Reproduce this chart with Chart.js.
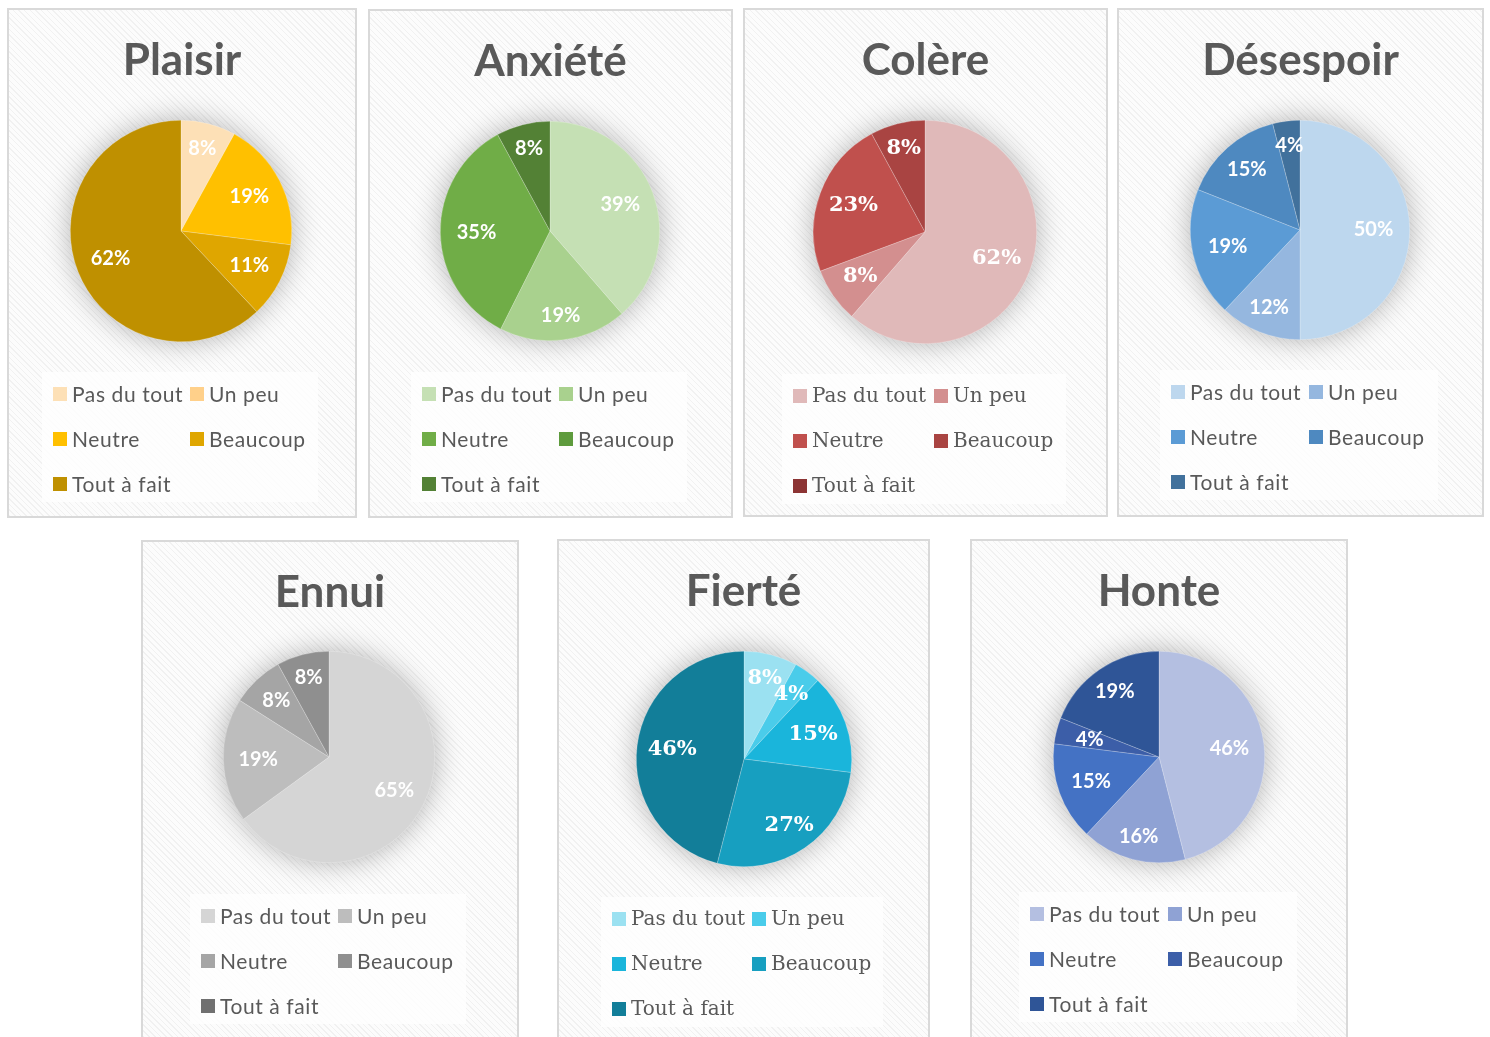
<!DOCTYPE html>
<html lang="fr">
<head>
<meta charset="utf-8">
<title>Émotions</title>
<script src="https://cdn.jsdelivr.net/npm/chart.js@4.4.1/dist/chart.umd.min.js"></script>
<style>
  body { margin: 0; width: 1490px; height: 1037px; overflow: hidden; position: relative; background: #fff; }
  .panel {
    position: absolute; box-sizing: border-box;
    border: 2px solid #d9d9d9;
    background: #fff repeating-linear-gradient(45deg, #f1f1f1 0 1px, #fcfcfc 1px 4px);
  }
  canvas { position: absolute; }
</style>
</head>
<body>
<script>
// Réponses (%) par émotion
const categories = ['Pas du tout', 'Un peu', 'Neutre', 'Beaucoup', 'Tout à fait'];
const titles = ['Plaisir', 'Anxiété', 'Colère', 'Désespoir', 'Ennui', 'Fierté', 'Honte'];

const plaisir   = [8, 0, 19, 11, 62];
const anxiete   = [39, 19, 35, 0, 8];
const colere    = [62, 8, 23, 8, 0];
const desespoir = [50, 12, 19, 15, 4];
const ennui     = [65, 19, 8, 8, 0];
const fierte    = [8, 4, 15, 27, 46];
const honte     = [46, 16, 15, 4, 19];
const series = [plaisir, anxiete, colere, desespoir, ennui, fierte, honte];

// Couleurs par graphique
const palettes = [
  ['#FDE0B6', '#FFD08A', '#FFC000', '#DFA600', '#BF9000'],
  ['#C5E0B4', '#A9D18E', '#70AD47', '#5E9B3D', '#538135'],
  ['#E0B9B9', '#D38F8F', '#C0504D', '#A94442', '#8C3434'],
  ['#BDD7EE', '#95B7DF', '#5B9BD5', '#4E89C0', '#41719C'],
  ['#D5D5D5', '#BDBDBD', '#A5A5A5', '#8F8F8F', '#707070'],
  ['#9BE1F1', '#4ACCEA', '#1AB5DB', '#179FC0', '#127E99'],
  ['#B4BFE1', '#8FA2D4', '#4472C4', '#3C5EA8', '#2F5597']
];

// Cadres : position, centre et rayon du camembert, légende
const panels = [
  { x: 7,    y: 8,   w: 350, h: 510, cx: 174, cy: 223, r: 111, legX: 46, legY: 386, gap: 137, serif: false },
  { x: 368,  y: 9,   w: 365, h: 509, cx: 182, cy: 222, r: 110, legX: 54, legY: 385, gap: 137, serif: false },
  { x: 743,  y: 8,   w: 365, h: 509, cx: 182, cy: 224, r: 112, legX: 50, legY: 388, gap: 141, serif: true },
  { x: 1117, y: 8,   w: 367, h: 509, cx: 183, cy: 222, r: 110, legX: 54, legY: 384, gap: 138, serif: false },
  { x: 141,  y: 540, w: 378, h: 510, cx: 188, cy: 217, r: 106, legX: 60, legY: 376, gap: 137, serif: false },
  { x: 557,  y: 539, w: 373, h: 510, cx: 187, cy: 220, r: 108, legX: 55, legY: 380, gap: 140, serif: true },
  { x: 970,  y: 539, w: 378, h: 510, cx: 189, cy: 218, r: 106, legX: 60, legY: 375, gap: 138, serif: false }
];

// Titre, ombre, étiquettes et légende dessinés autour du camembert
const panelDecor = {
  id: 'panelDecor',
  beforeDraw(chart, args, o) {
    const ctx = chart.ctx;
    ctx.save();
    ctx.fillStyle = 'rgba(255,255,255,0.75)';
    ctx.fillRect(o.legX - 11, o.legY - 22, o.gap * 2 + 2, 130);
    ctx.fillStyle = '#595959';
    ctx.font = 'bold 44px Lato';
    ctx.textAlign = 'center';
    ctx.textBaseline = 'alphabetic';
    ctx.fillText(o.title, chart.width / 2, 67);
    ctx.restore();
  },
  beforeDatasetsDraw(chart) {
    const arc = chart.getDatasetMeta(0).data[0];
    const ctx = chart.ctx;
    ctx.save();
    ctx.shadowColor = 'rgba(0,0,0,0.32)';
    ctx.shadowBlur = 30;
    ctx.fillStyle = '#f4f4f4';
    ctx.beginPath();
    ctx.arc(arc.x, arc.y, arc.outerRadius - 1, 0, Math.PI * 2);
    ctx.fill();
    ctx.restore();
  },
  afterDatasetsDraw(chart, args, o) {
    const ctx = chart.ctx;
    const values = chart.data.datasets[0].data;
    ctx.save();
    ctx.fillStyle = '#fff';
    ctx.textAlign = 'center';
    ctx.textBaseline = 'middle';
    ctx.font = o.serif ? 'bold 21px "DejaVu Serif"' : 'bold 20px Lato';
    chart.getDatasetMeta(0).data.forEach((arc, i) => {
      if (!values[i]) return;
      const mid = (arc.startAngle + arc.endAngle) / 2;
      // étiquettes un peu plus loin du centre vers le haut et le bas
      const s = Math.sin(mid);
      const d = arc.outerRadius * (0.67 + 0.11 * s * s);
      ctx.fillText(values[i] + '%', arc.x + Math.cos(mid) * d, arc.y + s * d);
    });
    ctx.restore();
  },
  afterDraw(chart, args, o) {
    const ctx = chart.ctx;
    const colors = chart.data.datasets[0].backgroundColor;
    ctx.save();
    ctx.textBaseline = 'middle';
    ctx.textAlign = 'left';
    ctx.font = o.serif ? '20px "DejaVu Serif"' : '21px Lato';
    ctx.letterSpacing = o.serif ? '0px' : '0.6px';
    chart.data.labels.forEach((label, i) => {
      const x = o.legX + (i % 2) * o.gap;
      const y = o.legY + Math.floor(i / 2) * 45;
      ctx.fillStyle = colors[i];
      ctx.fillRect(x, y - 7, 14, 14);
      ctx.fillStyle = '#595959';
      ctx.fillText(label, x + 19, y + 1);
    });
    ctx.restore();
  }
};

panels.forEach((p, k) => {
  const div = document.createElement('div');
  div.className = 'panel';
  Object.assign(div.style, { left: p.x + 'px', top: p.y + 'px', width: p.w + 'px', height: p.h + 'px' });
  document.body.appendChild(div);

  const canvas = document.createElement('canvas');
  canvas.width = p.w;
  canvas.height = p.h;
  Object.assign(canvas.style, { left: p.x + 'px', top: p.y + 'px' });
  document.body.appendChild(canvas);

  new Chart(canvas.getContext('2d'), {
    type: 'pie',
    data: {
      labels: categories,
      datasets: [{
        data: series[k],
        backgroundColor: palettes[k],
        borderColor: 'rgba(255,255,255,0.35)',
        borderWidth: c => (c.raw > 0 ? 0.6 : 0),
        hoverOffset: 0
      }]
    },
    options: {
      responsive: false,
      animation: false,
      devicePixelRatio: 1,
      layout: {
        padding: { left: p.cx - p.r, top: p.cy - p.r, right: p.w - p.cx - p.r, bottom: p.h - p.cy - p.r }
      },
      plugins: {
        legend: { display: false },
        tooltip: { enabled: false },
        panelDecor: { title: titles[k], legX: p.legX, legY: p.legY, gap: p.gap, serif: p.serif }
      }
    },
    plugins: [panelDecor]
  });
});
</script>
</body>
</html>
